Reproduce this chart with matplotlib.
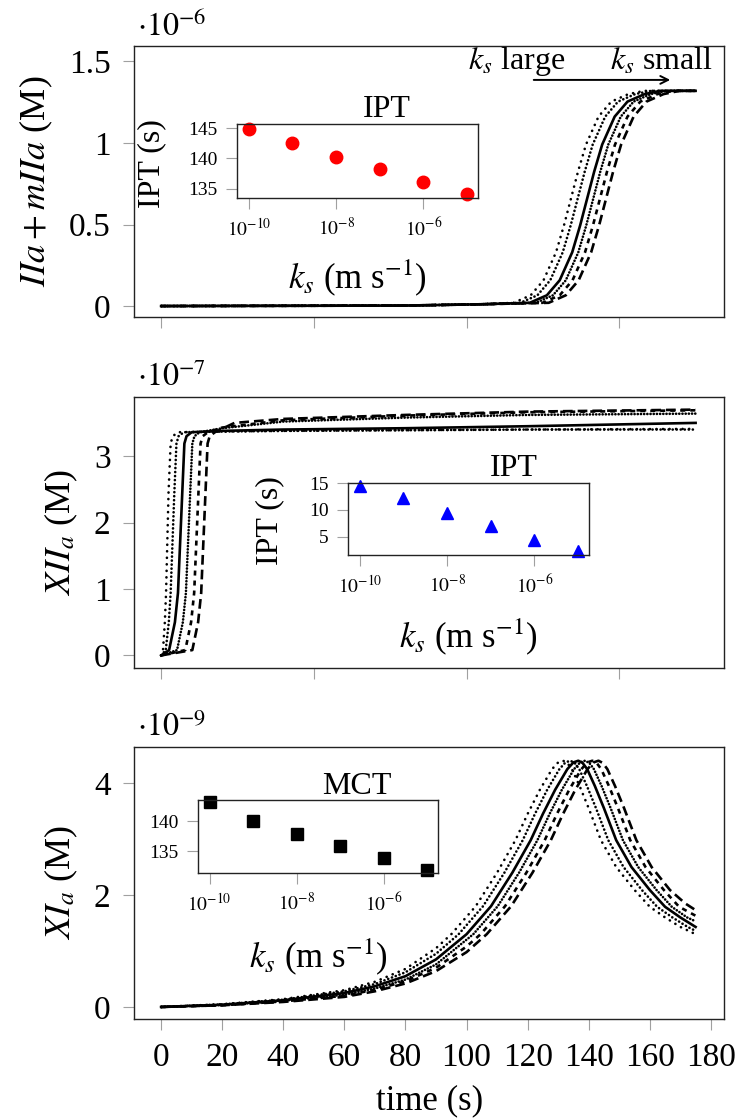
import matplotlib
matplotlib.use("Agg")
import matplotlib.pyplot as plt
from matplotlib.ticker import FuncFormatter, NullLocator

plt.rcParams["font.family"] = "serif"
plt.rcParams["font.serif"] = ["Liberation Serif", "DejaVu Serif"]
plt.rcParams["mathtext.fontset"] = "stix"
plt.rcParams["lines.scale_dashes"] = False

# surface rate constants and the inset summaries
ks = [1e-10, 1e-9, 1e-8, 1e-7, 1e-6, 1e-5]
ipt_iia = [144.8, 142.5, 140.3, 138.3, 136.1, 134.1]
ipt_xiia = [14.5, 12.2, 9.5, 7.0, 4.3, 2.4]
mct_xia = [143.1, 140.0, 137.9, 135.9, 133.9, 131.9]

# IIa + mIIa (x 1e-6 M): shared levels, one time list per ks
iia_y = [0, 0.003, 0.011, 0.020, 0.066, 0.158, 0.330, 0.495, 0.660, 0.825, 0.990, 1.162, 1.254, 1.300, 1.320, 1.320]
iia_t_m5 = [0, 80, 105, 115.4, 121.0, 125.2, 129.3, 131.9, 134.2, 136.5, 139.1, 143.2, 147.4, 153.0, 158.2, 175]
iia_t_m6 = [0, 80, 105, 117.6, 123.2, 127.4, 131.5, 134.1, 136.4, 138.7, 141.3, 145.4, 149.6, 155.2, 160.4, 175]
iia_t_m7 = [0, 80, 105, 120.7, 126.3, 130.5, 134.6, 137.2, 139.5, 141.8, 144.4, 148.5, 152.7, 158.3, 163.5, 175]
iia_t_m8 = [0, 80, 105, 122.7, 128.3, 132.5, 136.6, 139.2, 141.5, 143.8, 146.4, 150.5, 154.7, 160.3, 165.5, 175]
iia_t_m9 = [0, 80, 105, 124.9, 130.5, 134.7, 138.8, 141.4, 143.7, 146.0, 148.6, 152.7, 156.9, 162.5, 167.7, 175]
iia_t_m10 = [0, 80, 105, 126.9, 132.5, 136.7, 140.8, 143.4, 145.7, 148.0, 150.6, 154.7, 158.9, 164.5, 169.7, 175]

# XIIa (x 1e-7 M)
xiia_t_m5 = [0, 0.6, 1.2, 1.6, 2.4, 3.1, 3.8, 5.5, 20, 40, 80, 120, 175]
xiia_y_m5 = [0, 0.08, 0.5, 0.94, 2.44, 3.19, 3.3, 3.36, 3.37, 3.38, 3.39, 3.40, 3.41]
xiia_t_m6 = [0, 1.5, 2.5, 3.1, 4.3, 5.0, 5.7, 7.4, 20, 40, 80, 120, 175]
xiia_y_m6 = [0, 0.08, 0.5, 0.94, 2.44, 3.19, 3.3, 3.36, 3.37, 3.38, 3.39, 3.40, 3.40]
xiia_t_m7 = [0, 2.6, 4.5, 5.5, 6.9, 7.6, 8.3, 10.0, 20, 40, 80, 120, 175]
xiia_y_m7 = [0, 0.08, 0.5, 0.94, 2.44, 3.19, 3.3, 3.36, 3.38, 3.40, 3.42, 3.45, 3.50]
xiia_t_m8 = [0, 5.2, 7.1, 8.1, 9.5, 10.2, 10.9, 12.6, 20, 40, 80, 120, 175]
xiia_y_m8 = [0, 0.08, 0.5, 0.94, 2.44, 3.19, 3.3, 3.36, 3.42, 3.52, 3.58, 3.62, 3.64]
xiia_t_m9 = [0, 7.9, 9.8, 10.8, 12.2, 12.9, 13.6, 15.3, 20, 40, 80, 120, 175]
xiia_y_m9 = [0, 0.08, 0.5, 0.94, 2.44, 3.19, 3.3, 3.36, 3.43, 3.54, 3.61, 3.66, 3.69]
xiia_t_m10 = [0, 10.2, 12.1, 13.1, 14.5, 15.2, 15.9, 17.6, 24, 40, 80, 120, 175]
xiia_y_m10 = [0, 0.08, 0.5, 0.94, 2.44, 3.19, 3.3, 3.36, 3.50, 3.56, 3.62, 3.67, 3.70]

# XIa (x 1e-9 M)
xia_t_m5 = [0, 20, 40, 60, 70, 80, 90, 95, 103, 110, 116, 120, 124, 128, 130, 131.6, 133, 134.5, 137, 140, 144, 149, 155, 160, 165, 170, 175]
xia_y_m5 = [0, 0.05, 0.14, 0.30, 0.45, 0.68, 1.05, 1.30, 1.80, 2.40, 2.98, 3.45, 3.88, 4.25, 4.37, 4.40, 4.36, 4.25, 3.95, 3.55, 2.98, 2.50, 2.09, 1.79, 1.60, 1.43, 1.30]
xia_t_m6 = [0, 20, 40, 60, 70, 80, 90, 97.4, 105.4, 112.4, 118.4, 122.4, 126.4, 130.4, 132.4, 134.0, 135.4, 136.9, 139.4, 142.4, 146.4, 151.4, 157.4, 162.4, 167.4, 172.4, 175]
xia_y_m6 = [0, 0.045, 0.13, 0.28, 0.41, 0.62, 0.95, 1.30, 1.80, 2.40, 2.98, 3.45, 3.88, 4.25, 4.37, 4.40, 4.36, 4.25, 3.95, 3.55, 2.98, 2.50, 2.09, 1.79, 1.60, 1.43, 1.36]
xia_t_m7 = [0, 20, 40, 60, 70, 80, 90, 100, 108, 115, 121, 125, 129, 133, 135, 136.6, 138, 139.5, 142, 145, 149, 154, 160, 165, 170, 175]
xia_y_m7 = [0, 0.04, 0.12, 0.25, 0.37, 0.55, 0.85, 1.30, 1.80, 2.40, 2.98, 3.45, 3.88, 4.25, 4.37, 4.40, 4.36, 4.25, 3.95, 3.55, 2.98, 2.50, 2.09, 1.79, 1.60, 1.43]
xia_t_m8 = [0, 20, 40, 60, 70, 80, 90, 102.2, 110.2, 117.2, 123.2, 127.2, 131.2, 135.2, 137.2, 138.8, 140.2, 141.7, 144.2, 147.2, 151.2, 156.2, 162.2, 167.2, 172.2, 175]
xia_y_m8 = [0, 0.035, 0.11, 0.22, 0.33, 0.49, 0.76, 1.30, 1.80, 2.40, 2.98, 3.45, 3.88, 4.25, 4.37, 4.40, 4.36, 4.25, 3.95, 3.55, 2.98, 2.50, 2.09, 1.79, 1.60, 1.53]
xia_t_m9 = [0, 20, 40, 60, 70, 80, 90, 100, 104.6, 112.6, 119.6, 125.6, 129.6, 133.6, 137.6, 139.6, 141.2, 142.6, 144.1, 146.6, 149.6, 153.6, 158.6, 164.6, 169.6, 175]
xia_y_m9 = [0, 0.03, 0.10, 0.20, 0.31, 0.46, 0.70, 1.08, 1.30, 1.80, 2.40, 2.98, 3.45, 3.88, 4.25, 4.37, 4.40, 4.36, 4.25, 3.95, 3.55, 2.98, 2.50, 2.09, 1.79, 1.63]
xia_t_m10 = [0, 20, 40, 60, 70, 80, 90, 100, 106.6, 114.6, 121.6, 127.6, 131.6, 135.6, 139.6, 141.6, 143.2, 144.6, 146.1, 148.6, 151.6, 155.6, 160.6, 166.6, 171.6, 175]
xia_y_m10 = [0, 0.03, 0.09, 0.18, 0.28, 0.42, 0.64, 0.98, 1.30, 1.80, 2.40, 2.98, 3.45, 3.88, 4.25, 4.37, 4.40, 4.36, 4.25, 3.95, 3.55, 2.98, 2.50, 2.09, 1.85, 1.73]

# line style per ks, from large ks (earliest curve) to small ks
STYLES = {
    "m5": dict(linestyle=(0, (0.1, 4.6)), dash_capstyle="round"),
    "m6": dict(linestyle=(0, (0.1, 2.8)), dash_capstyle="round"),
    "m7": dict(linestyle="solid"),
    "m8": dict(linestyle=(0, (0.1, 2.2)), dash_capstyle="round"),
    "m9": dict(linestyle=(0, (3.6, 3.6))),
    "m10": dict(linestyle=(0, (7.0, 3.6))),
}
TICK_GREY = "#a0a0a0"
LW = 1.9
W, H = 739, 1119

fig = plt.figure(figsize=(W / 100, H / 100), dpi=100)


def px_axes(left, top, right, bottom):
    return fig.add_axes([left / W, 1 - bottom / H, (right - left) / W, (bottom - top) / H])


def style_main(ax, ylim, yticks, exponent, ylabel):
    ax.set_xlim(-8.8, 184.3)
    ax.set_ylim(*ylim)
    ax.set_yticks(yticks)
    ax.yaxis.set_major_formatter(FuncFormatter(lambda v, p: f"{v:g}"))
    ax.tick_params(direction="out", length=8, width=0.8, color=TICK_GREY, labelsize=24, pad=9)
    for sp in ax.spines.values():
        sp.set_linewidth(1.0)
        sp.set_color("#222222")
    ax.set_ylabel(ylabel, fontsize=26, labelpad=10)
    ax.text(0.005, 1.07, rf"$\cdot 10^{{{exponent}}}$", transform=ax.transAxes, fontsize=23, ha="left", va="center")


def style_inset(ax, ylim, yticks, title, title_xy, xlabel_y, ylabel_x=None):
    ax.set_xscale("log")
    ax.set_xlim(10 ** -10.27, 10 ** -4.75)
    ax.set_xticks([1e-10, 1e-8, 1e-6])
    ax.xaxis.set_minor_locator(NullLocator())
    ax.set_xticklabels([r"$10^{-10}$", r"$10^{-8}$", r"$10^{-6}$"])
    ax.set_ylim(*ylim)
    ax.set_yticks(yticks)
    ax.tick_params(direction="out", length=8, width=0.8, color=TICK_GREY, labelsize=14, pad=6)
    for sp in ax.spines.values():
        sp.set_linewidth(1.0)
        sp.set_color("#222222")
    ax.text(*title_xy, title, transform=ax.transAxes, fontsize=23, ha="center", va="center")
    ax.text(0.5, xlabel_y, r"$k_s$ (m s$^{-1}$)", transform=ax.transAxes, fontsize=25, ha="center", va="center")
    if ylabel_x is not None:
        ax.text(ylabel_x, 0.47, "IPT (s)", transform=ax.transAxes, fontsize=23, rotation=90, ha="center", va="center")


ax1 = px_axes(134.3, 46, 724, 317.3)
ax2 = px_axes(134.3, 397, 724, 668)
ax3 = px_axes(134.3, 747, 724, 1019)

iia_curves = {"m5": iia_t_m5, "m6": iia_t_m6, "m7": iia_t_m7, "m8": iia_t_m8, "m9": iia_t_m9, "m10": iia_t_m10}
for key, t in iia_curves.items():
    ax1.plot(t, iia_y, color="black", lw=LW, **STYLES[key])

xiia_curves = {
    "m5": (xiia_t_m5, xiia_y_m5), "m6": (xiia_t_m6, xiia_y_m6), "m7": (xiia_t_m7, xiia_y_m7),
    "m8": (xiia_t_m8, xiia_y_m8), "m9": (xiia_t_m9, xiia_y_m9), "m10": (xiia_t_m10, xiia_y_m10),
}
for key, (t, y) in xiia_curves.items():
    ax2.plot(t, y, color="black", lw=LW, **STYLES[key])

xia_curves = {
    "m5": (xia_t_m5, xia_y_m5), "m6": (xia_t_m6, xia_y_m6), "m7": (xia_t_m7, xia_y_m7),
    "m8": (xia_t_m8, xia_y_m8), "m9": (xia_t_m9, xia_y_m9), "m10": (xia_t_m10, xia_y_m10),
}
for key, (t, y) in xia_curves.items():
    ax3.plot(t, y, color="black", lw=LW, **STYLES[key])

style_main(ax1, (-0.069, 1.595), [0, 0.5, 1, 1.5], -6, r"$IIa+mIIa$ (M)")
style_main(ax2, (-0.19, 3.89), [0, 1, 2, 3], -7, r"$XII_a$ (M)")
style_main(ax3, (-0.215, 4.645), [0, 2, 4], -9, r"$XI_a$ (M)")
for ax in (ax1, ax2):
    ax.set_xticks([0, 50, 100, 150])
    ax.set_xticklabels([])
ax3.set_xticks(range(0, 181, 20))
ax3.set_xlabel("time (s)", fontsize=25, labelpad=8)

ax1.annotate("", xy=(166.7, 1.387), xytext=(122, 1.387),
             arrowprops=dict(arrowstyle="->", lw=1.4, color="black", mutation_scale=14, shrinkA=0, shrinkB=0))
ax1.text(116.5, 1.50, r"$k_s$ large", fontsize=23, ha="center", va="center")
ax1.text(163.7, 1.50, r"$k_s$ small", fontsize=23, ha="center", va="center")

in1 = px_axes(237, 124, 478, 198)
in1.plot(ks, ipt_iia, "o", color="red", ms=9, clip_on=False)
style_inset(in1, (133.5, 145.66), [135, 140, 145], "IPT", (0.622, 1.19), -1.08, ylabel_x=-0.353)

in2 = px_axes(348, 482.7, 589, 555)
in2.plot(ks, ipt_xiia, "^", color="blue", ms=9, clip_on=False)
style_inset(in2, (1.57, 15.1), [5, 10, 15], "IPT", (0.689, 1.20), -1.13, ylabel_x=-0.324)

in3 = px_axes(198, 800, 438, 873)
in3.plot(ks, mct_xia, "s", color="black", ms=9, clip_on=False)
style_inset(in3, (131.4, 143.5), [135, 140], "MCT", (0.661, 1.18), -1.15)

fig.savefig("out.png", dpi=100)
